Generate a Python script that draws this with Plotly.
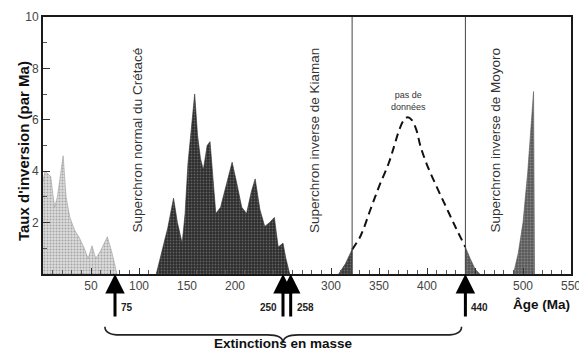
import plotly.graph_objects as go

# ---------------- data ----------------
# Cenozoic (light stipple)
ceno_age = [0, 2, 8, 12, 15, 21, 24, 28, 33, 38, 43, 47, 51, 55, 60, 67, 72, 77]
ceno_rate = [3.6, 4.0, 3.8, 2.6, 3.0, 4.6, 3.0, 2.2, 1.7, 1.4, 1.0, 0.6, 1.1, 0.6, 0.9, 1.45, 0.8, 0.0]

# Jurassic-Triassic (dark stipple)
meso_age = [118, 122, 130, 136, 140, 145, 148, 151, 155, 158, 161, 164, 167, 171, 174, 177, 180,
            185, 192, 197, 202, 207, 212, 217, 221, 226, 231, 236, 241, 245, 250, 253, 257]
meso_rate = [0.0, 0.6, 1.8, 2.95, 2.0, 1.2, 2.35, 4.3, 6.0, 7.0, 5.4, 4.5, 4.05, 5.0, 5.15, 3.6, 2.35,
             2.6, 3.6, 4.35, 3.5, 2.6, 2.35, 3.2, 3.7, 2.5, 1.85, 2.0, 2.2, 1.05, 1.2, 0.6, 0.0]

# small hump before the Kiaman boundary
pre_kiaman_age = [308, 315, 322, 322]
pre_kiaman_rate = [0.0, 0.4, 0.95, 0.0]

# "pas de données" dashed estimate
nodata_age = [322, 331, 341, 350, 360, 366, 371, 376, 380, 384, 389, 393, 400, 410, 420, 430, 440]
nodata_rate = [0.95, 1.5, 2.5, 3.4, 4.3, 5.0, 5.6, 6.0, 6.1, 6.0, 5.6, 5.0, 4.25, 3.4, 2.6, 1.8, 1.05]

# after the Moyoro boundary
post_440_age = [440, 440, 445, 450, 455]
post_440_rate = [0.0, 1.05, 0.6, 0.2, 0.0]

# Cambrian peak
camb_age = [490, 495, 500, 505, 511, 512]
camb_rate = [0.0, 0.8, 2.0, 4.0, 7.1, 0.0]

# superchron boundaries
boundary_ages = [322, 440]

# mass extinctions
extinction_ages = [75, 250, 258, 440]
extinction_labels = ["75", "250", "258", "440"]
extinction_side = ["left", "right", "left", "left"]

# superchron labels
superchron_names = ["Superchron normal du Crétacé", "Superchron inverse de Kiaman",
                    "Superchron inverse de Moyoro"]
superchron_ages = [98, 283, 471]
superchron_y = 5.2

x_tickvals = [50, 100, 150, 200, 250, 300, 350, 400, 450, 500, 550]
x_ticktext = ["50", "100", "150", "200", "", "300", "350", "400", "", "500", "550"]
y_tickvals = [2, 4, 6, 8, 10]
y_ticktext = ["2", "4", "6", "8", "10"]

X_RANGE = [0, 550]
Y_RANGE = [0, 10]

FONT = "Liberation Sans, Arial, sans-serif"

fig = go.Figure()

def area(x, y, bg, fg, lc, solidity):
    fig.add_trace(go.Scatter(
        x=x, y=y, mode="lines", fill="tozeroy",
        line=dict(color=lc, width=0.6),
        fillpattern=dict(shape=".", bgcolor=bg, fgcolor=fg, size=3, solidity=solidity),
        hoverinfo="skip", showlegend=False))

area(ceno_age, ceno_rate, "#dcdcdc", "#6e6e6e", "#9a9a9a", 0.35)
area(meso_age, meso_rate, "#2c2c2c", "#9a9a9a", "#2c2c2c", 0.3)
area(pre_kiaman_age, pre_kiaman_rate, "#3a3a3a", "#9a9a9a", "#3a3a3a", 0.3)
area(post_440_age, post_440_rate, "#555555", "#aaaaaa", "#555555", 0.3)
area(camb_age, camb_rate, "#5a5a5a", "#b0b0b0", "#555555", 0.35)

fig.add_trace(go.Scatter(x=nodata_age, y=nodata_rate, mode="lines",
                         line=dict(color="#111111", width=2, dash="8px,5px", shape="spline"),
                         hoverinfo="skip", showlegend=False))

for a in boundary_ages:
    fig.add_trace(go.Scatter(x=[a, a], y=Y_RANGE, mode="lines",
                             line=dict(color="#444444", width=1),
                             hoverinfo="skip", showlegend=False))

def xp(a):
    return (a - X_RANGE[0]) / (X_RANGE[1] - X_RANGE[0])

def yp(v):
    return (v - Y_RANGE[0]) / (Y_RANGE[1] - Y_RANGE[0])

annotations = []
for name, a in zip(superchron_names, superchron_ages):
    annotations.append(dict(x=a, y=superchron_y, xref="x", yref="y", text=name,
                            textangle=-90, showarrow=False,
                            font=dict(family=FONT, size=13.5, color="#333333")))

annotations.append(dict(x=381, y=6.75, xref="x", yref="y", text="pas de<br>données",
                        showarrow=False, font=dict(family=FONT, size=9, color="#333333")))

for a, lab, side in zip(extinction_ages, extinction_labels, extinction_side):
    annotations.append(dict(x=a, y=0, xref="x", yref="y", text="", showarrow=True,
                            ax=0, ay=44, arrowhead=2, arrowsize=1.3, arrowwidth=3,
                            arrowcolor="#000000", standoff=0, startstandoff=0))
    annotations.append(dict(x=xp(a), y=yp(-1.6), xref="paper", yref="paper",
                            text="<b>%s</b>" % lab,
                            showarrow=False, xanchor=side, xshift=(4 if side == "left" else -4),
                            font=dict(family=FONT, size=10, color="#222222")))

# axis titles
annotations.append(dict(x=-0.057, y=0.48, xref="paper", yref="paper",
                        text="<b>Taux d'inversion (par Ma)</b>", textangle=-90, showarrow=False,
                        font=dict(family=FONT, size=15, color="#111111")))
annotations.append(dict(x=xp(488), y=yp(-1.55), xref="paper", yref="paper",
                        text="<b>Âge (Ma)</b>", showarrow=False, xanchor="left",
                        font=dict(family=FONT, size=13.5, color="#111111")))

# brace "Extinctions en masse"
b_left, b_mid, b_right = 64.5, 250, 436
y_end, y_flat, y_cusp = -0.205, -0.237, -0.268
c = xp(16) - xp(0)
path = (f"M {xp(b_left)},{y_end} Q {xp(b_left)},{y_flat} {xp(b_left)+c},{y_flat} "
        f"L {xp(b_mid)-c},{y_flat} Q {xp(b_mid)},{y_flat} {xp(b_mid)},{y_cusp} "
        f"Q {xp(b_mid)},{y_flat} {xp(b_mid)+c},{y_flat} "
        f"L {xp(b_right)-c},{y_flat} Q {xp(b_right)},{y_flat} {xp(b_right)},{y_end}")
fig.add_shape(type="path", path=path, xref="paper", yref="paper",
              line=dict(color="#222222", width=1.6))
annotations.append(dict(x=xp(b_mid), y=-0.308, xref="paper", yref="paper",
                        text="<b>Extinctions en masse</b>", showarrow=False,
                        font=dict(family=FONT, size=13.5, color="#111111")))

fig.update_layout(
    width=579, height=360,
    margin=dict(l=43, r=8, t=17, b=86),
    plot_bgcolor="white", paper_bgcolor="white",
    annotations=annotations,
    xaxis=dict(range=X_RANGE, tickvals=x_tickvals, ticktext=x_ticktext,
               ticks="inside", ticklen=6, tickwidth=1, tickcolor="#333333",
               minor=dict(dtick=10, ticks="inside", ticklen=4, tickcolor="#555555"),
               showline=True, mirror=True, linewidth=2, linecolor="#1a1a1a",
               showgrid=False, zeroline=False, automargin=False,
               ticklabeloverflow="allow",
               tickfont=dict(family=FONT, size=12, color="#444444")),
    yaxis=dict(range=Y_RANGE, tickvals=y_tickvals, ticktext=y_ticktext,
               ticks="inside", ticklen=7, tickwidth=1, tickcolor="#333333",
               minor=dict(dtick=1, ticks="inside", ticklen=4, tickcolor="#555555"),
               showline=True, mirror=True, linewidth=2, linecolor="#1a1a1a",
               showgrid=False, zeroline=False, automargin=False,
               tickfont=dict(family=FONT, size=12, color="#444444")),
)

fig.write_html("out.html", config={"displayModeBar": False},
               post_script="document.body.style.margin='0';")
